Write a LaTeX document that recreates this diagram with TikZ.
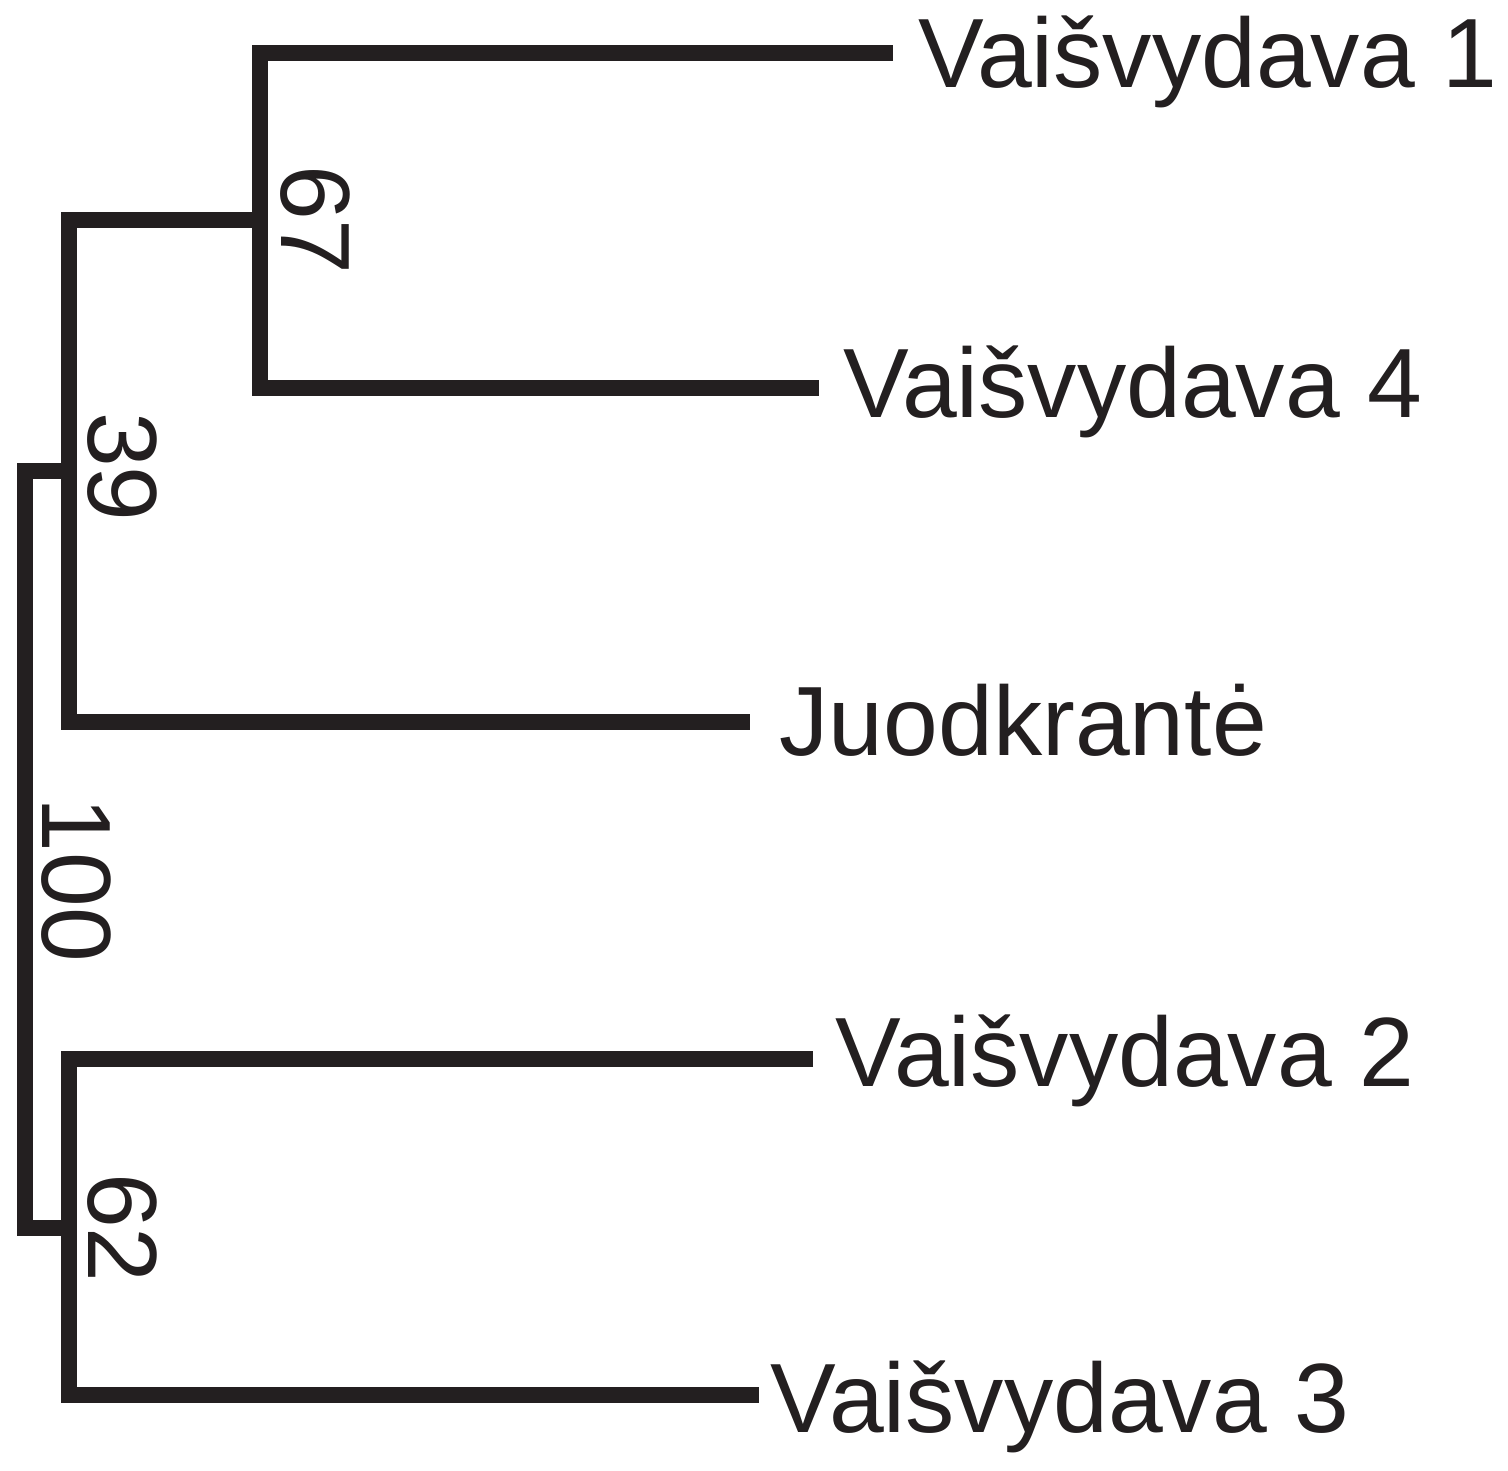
\documentclass[tikz,border=0pt]{standalone}
\usepackage{fontspec}
\setmainfont{Liberation Sans}
\usetikzlibrary{calc}
\definecolor{ink}{HTML}{231F20}

\begin{document}
\begin{tikzpicture}[x=0.01cm, y=-0.01cm,
		branch/.style = {draw = ink, line width = 4.4pt, line cap = butt, line join = miter},
		taxon/.style = {anchor = base west, inner sep = 0pt, text = ink, font = \fontsize{28}{33}\selectfont},
		support/.style = {anchor = base, rotate = -90, inner sep = 0pt, text = ink, font = \fontsize{28}{33}\selectfont}]
	\useasboundingbox (0,0) rectangle (1508,1471);
	
	\def\xa{25};
	\def\xb{69};
	\def\xc{260};
	
	% inner nodes
	\coordinate (r1) at (\xa,471);
	\coordinate (r2) at (\xa,1228);
	\coordinate (a0) at (\xb,220);
	\coordinate (a1) at (\xb,471);
	\coordinate (a2) at (\xb,722);
	\coordinate (b0) at (\xc,53);
	\coordinate (b1) at (\xc,220);
	\coordinate (b2) at (\xc,388);
	\coordinate (c0) at (\xb,1059);
	\coordinate (c1) at (\xb,1228);
	\coordinate (c2) at (\xb,1395);
	
	% tips
	\coordinate (v1) at (893,53);
	\coordinate (v4) at (819,388);
	\coordinate (ju) at (750,722);
	\coordinate (v2) at (813,1059);
	\coordinate (v3) at (759,1395);
	
	\begin{scope}
		\draw [branch] (v1) -- (b0) -- (b2) -- (v4);
		\draw [branch] (b1) -- (a0) -- (a2) -- (ju);
		\draw [branch] (v2) -- (c0) -- (c2) -- (v3);
		\draw [branch] (a1) -- (r1) -- (r2) -- (c1);
	\end{scope}
	
	\begin{scope}
		\node [taxon] (t1) at (918,88) {Vaišvydava 1};
		\node [taxon] (t4) at (843,418) {Vaišvydava 4};
		\node [taxon] (tj) at (779,756) {Juodkrantė};
		\node [taxon] (t2) at (835,1087) {Vaišvydava 2};
		\node [taxon] (t3) at (770,1433) {Vaišvydava 3};
	\end{scope}
	
	\begin{scope}
		\node [support] (s67) at ($ (b1) + (21,0) $) {67};
		\node [support] (s39) at ($ (a1) + (19,-4) $) {39};
		\node [support] (s100) at (42,880) {100};
		\node [support] (s62) at ($ (c1) + (19,0) $) {62};
	\end{scope}
\end{tikzpicture}
\end{document}
